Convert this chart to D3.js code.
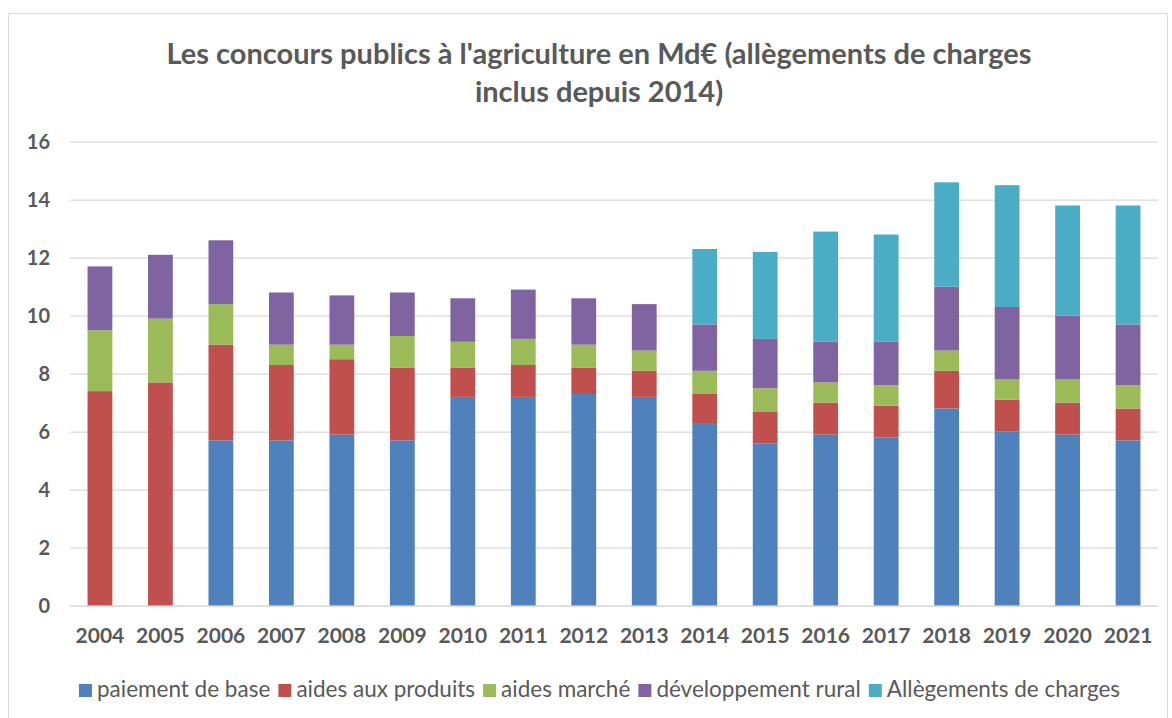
<!DOCTYPE html>
<html>
<head>
<meta charset="utf-8">
<script src="https://d3js.org/d3.v7.min.js"></script>
<style>
  body { margin: 0; background: #fff; }
  text { font-family: Lato, "Open Sans", sans-serif; fill: #595959; }
</style>
</head>
<body>
<svg id="mainsvg"></svg>
<script>
// data (Md€)
const years = ["2004","2005","2006","2007","2008","2009","2010","2011","2012","2013",
               "2014","2015","2016","2017","2018","2019","2020","2021"];
const paiementBase   = [0, 0, 5.7, 5.7, 5.9, 5.7, 7.2, 7.2, 7.3, 7.2, 6.3, 5.6, 5.9, 5.8, 6.8, 6.0, 5.9, 5.7];
const aidesProduits  = [7.4, 7.7, 3.3, 2.6, 2.6, 2.5, 1.0, 1.1, 0.9, 0.9, 1.0, 1.1, 1.1, 1.1, 1.3, 1.1, 1.1, 1.1];
const aidesMarche    = [2.1, 2.2, 1.4, 0.7, 0.5, 1.1, 0.9, 0.9, 0.8, 0.7, 0.8, 0.8, 0.7, 0.7, 0.7, 0.7, 0.8, 0.8];
const devRural       = [2.2, 2.2, 2.2, 1.8, 1.7, 1.5, 1.5, 1.7, 1.6, 1.6, 1.6, 1.7, 1.4, 1.5, 2.2, 2.5, 2.2, 2.1];
const allegements    = [0, 0, 0, 0, 0, 0, 0, 0, 0, 0, 2.6, 3.0, 3.8, 3.7, 3.6, 4.2, 3.8, 4.1];
const seriesNames = ["paiement de base", "aides aux produits", "aides marché", "développement rural", "Allègements de charges"];
const seriesColors = ["#4F81BD", "#C0504D", "#9BBB59", "#8064A2", "#4BACC6"];
const yTicks = [0, 2, 4, 6, 8, 10, 12, 14, 16];

const width = 1172, height = 718;
const margin = { top: 141.7, right: 14, bottom: 112.3, left: 70 };

const svg = d3.select("#mainsvg")
    .attr("width", width)
    .attr("height", height)
    .attr("viewBox", [0, 0, width, height]);

// chart border
svg.append("rect")
    .attr("x", 8.5).attr("y", 13.5)
    .attr("width", 1159).attr("height", 720)
    .attr("fill", "none").attr("stroke", "#D9D9D9");

const table = years.map((y, i) => ({
    year: y,
    [seriesNames[0]]: paiementBase[i],
    [seriesNames[1]]: aidesProduits[i],
    [seriesNames[2]]: aidesMarche[i],
    [seriesNames[3]]: devRural[i],
    [seriesNames[4]]: allegements[i]
}));
const stacked = d3.stack().keys(seriesNames)(table);

const x = d3.scaleBand()
    .domain(years)
    .range([margin.left, width - margin.right])
    .paddingInner(0.59)
    .paddingOuter(0.29);

const y = d3.scaleLinear([0, 16], [height - margin.bottom, margin.top]);

// gridlines + y labels
const yAxis = d3.axisLeft(y)
    .tickValues(yTicks)
    .tickSize(-(width - margin.right - margin.left))
    .tickPadding(20)
    .tickFormat(d3.format("d"));

svg.append("g")
    .attr("transform", `translate(${margin.left},0)`)
    .call(yAxis)
    .call(g => g.select(".domain").remove())
    .call(g => g.selectAll(".tick line").attr("stroke", "#D9D9D9").attr("stroke-width", 1.3))
    .call(g => g.selectAll(".tick text")
        .style("font-size", "20px").style("font-weight", "bold")
        .attr("fill", "#595959"));

// bars
svg.append("g")
    .selectAll("g")
    .data(stacked)
    .join("g")
    .attr("fill", (d, i) => seriesColors[i])
    .selectAll("rect")
    .data(d => d)
    .join("rect")
    .attr("x", d => x(d.data.year))
    .attr("y", d => y(d[1]))
    .attr("width", x.bandwidth())
    .attr("height", d => y(d[0]) - y(d[1]));

// x labels
const xAxis = d3.axisBottom(x).tickSize(0).tickPadding(22);
svg.append("g")
    .attr("transform", `translate(0,${y(0)})`)
    .call(xAxis)
    .call(g => g.select(".domain").attr("stroke", "#D9D9D9").attr("stroke-width", 1.3))
    .call(g => g.selectAll(".tick text")
        .style("font-size", "21px").style("font-weight", "bold")
        .attr("fill", "#595959"));

// title
const title = svg.append("text")
    .attr("text-anchor", "middle")
    .style("font-size", "29px").style("font-weight", "bold");
title.append("tspan").attr("x", 599).attr("y", 64)
    .text("Les concours publics à l'agriculture en Md€ (allègements de charges");
title.append("tspan").attr("x", 599).attr("y", 102)
    .text("inclus depuis 2014)");

// legend
const legend = svg.append("g").attr("transform", "translate(0,697)");
const items = legend.selectAll("g")
    .data(seriesNames)
    .join("g");
items.append("rect")
    .attr("y", -13).attr("width", 13).attr("height", 13)
    .attr("fill", (d, i) => seriesColors[i]);
items.append("text")
    .attr("x", 18)
    .style("font-size", "22.5px")
    .text(d => d);
let lx = 0;
const offsets = [];
items.each(function () {
    offsets.push(lx);
    lx += this.getBBox().width + 8;
});
const start = 599.5 - (lx - 8) / 2;
items.attr("transform", (d, i) => `translate(${start + offsets[i]},0)`);
</script>
</body>
</html>
